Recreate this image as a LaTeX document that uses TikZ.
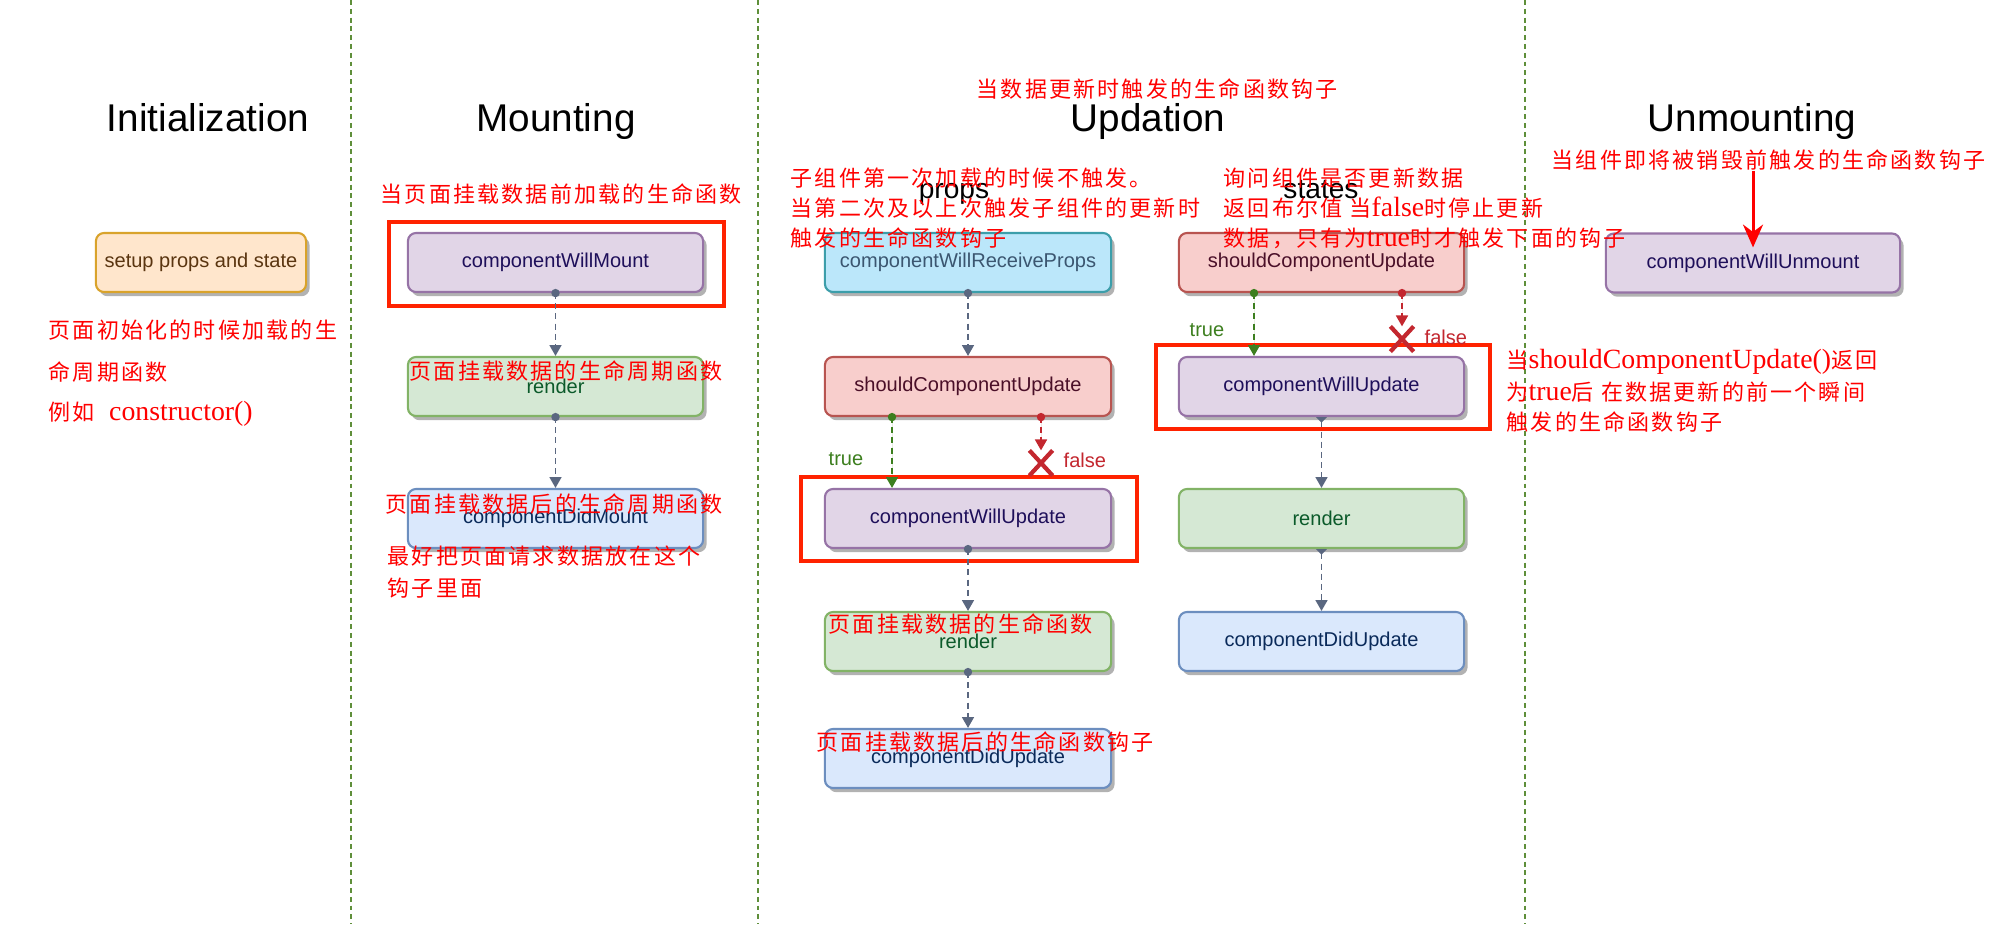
\documentclass[tikz,border=0pt]{standalone}
\usepackage{fontspec}
\setmainfont{Liberation Sans}
\newfontfamily\cjk[LetterSpace=10]{Noto Sans CJK SC}
\newfontfamily\latf{Liberation Serif}
\newcommand\lt[1]{{\latf\fontsize{7.9}{9}\selectfont #1}}
\usetikzlibrary{arrows.meta,shapes.misc,shadows,calc}
\definecolor{sepgreen}{HTML}{5F8F3A}
\definecolor{cgray}{HTML}{5A6780}
\definecolor{cgreen}{HTML}{3D7F1F}
\definecolor{cred}{HTML}{C3272F}
\definecolor{boxred}{HTML}{FF2200}
\definecolor{orfill}{HTML}{FFE6CC}\definecolor{ordraw}{HTML}{D9A32B}\definecolor{ortext}{HTML}{5A3510}
\definecolor{pufill}{HTML}{E1D5E7}\definecolor{pudraw}{HTML}{9673A6}\definecolor{putext}{HTML}{1E0F5A}
\definecolor{grfill}{HTML}{D5E8D4}\definecolor{grdraw}{HTML}{82B366}\definecolor{grtext}{HTML}{0B5A2A}
\definecolor{blfill}{HTML}{DAE8FC}\definecolor{bldraw}{HTML}{6C8EBF}\definecolor{bltext}{HTML}{0A2A5A}
\definecolor{cyfill}{HTML}{BBE7FA}\definecolor{cydraw}{HTML}{3C9EAA}\definecolor{cytext}{HTML}{3B5670}
\definecolor{rdfill}{HTML}{F8CECC}\definecolor{rddraw}{HTML}{B85450}\definecolor{rdtext}{HTML}{4A0F28}
\begin{document}
\begin{tikzpicture}[x=0.01cm,y=-0.01cm,
  box/.style={rounded corners=2.3pt, line width=0.6pt, minimum height=0.59cm, inner sep=0pt,
    font=\fontsize{5.7}{6.8}\selectfont,
    drop shadow={shadow xshift=1pt, shadow yshift=-1.2pt, opacity=0.3, fill=black}},
  orbox/.style={box, fill=orfill, draw=ordraw, text=ortext},
  pubox/.style={box, fill=pufill, draw=pudraw, text=putext},
  grbox/.style={box, fill=grfill, draw=grdraw, text=grtext},
  blbox/.style={box, fill=blfill, draw=bldraw, text=bltext},
  cybox/.style={box, fill=cyfill, draw=cydraw, text=cytext},
  rdbox/.style={box, fill=rdfill, draw=rddraw, text=rdtext},
  title/.style={font=\fontsize{11}{13}\selectfont, text=black, inner sep=0pt, anchor=base},
  sub/.style={font=\fontsize{8}{9.5}\selectfont, text=black, inner sep=0pt, anchor=base},
  ann/.style={text=red, font=\cjk\fontsize{6.26}{7.5}\selectfont, anchor=west, inner sep=0pt},
  sep/.style={draw=sepgreen, line width=0.55pt, dash pattern=on 1.4pt off 1.1pt},
  conn/.style={draw=cgray, line width=0.5pt, dash pattern=on 1.7pt off 1.2pt,
    -{Triangle[width=3.4pt,length=3.1pt]}},
  conntri/.style={conn, {Triangle[reversed,width=3pt,length=1.6pt]}-{Triangle[width=3.4pt,length=3.1pt]}},
  conng/.style={conn, draw=cgreen, fill=cgreen},
  connr/.style={conn, draw=cred, fill=cred},
  lab/.style={font=\fontsize{5.7}{6.8}\selectfont, inner sep=0pt},
  xmark/.style={cross out, draw=cred, line width=1.2pt, minimum width=0.19cm, minimum height=0.21cm, inner sep=0pt},
  redbox/.style={draw=boxred, line width=1.1pt},
  redarrow/.style={draw=red, line width=0.85pt, -{Stealth[width=5.7pt,length=6.5pt]}}
]
\useasboundingbox[fill=white] (0,0) rectangle (2000,924);

% separators
\draw[sep] (351,0) -- (351,924);
\draw[sep] (758,0) -- (758,924);
\draw[sep] (1525,0) -- (1525,924);

% titles
\node[title] (tInit) at (208,131) {Initialization};
\node[title] (tMount) at (556,131) {Mounting};
\node[title] (tUpd) at (1148,131) {Updation};
\node[title] (tUnm) at (1752,131) {Unmounting};
\node[sub] (tProps) at (954,198) {props};
\node[sub] (tStates) at (1321,198) {states};

% boxes
\node[orbox, minimum width=2.10cm] (setup) at (201,262.5) {setup props and state};
\node[pubox, minimum width=2.95cm] (cwm) at (555.5,262.5) {componentWillMount};
\node[grbox, minimum width=2.95cm] (render1) at (555.5,386.5) {render};
\node[blbox, minimum width=2.95cm] (cdm) at (555.5,518.5) {componentDidMount};

\node[cybox, minimum width=2.86cm] (cwrp) at (968,262.5) {componentWillReceiveProps};
\node[rdbox, minimum width=2.86cm] (scu1) at (968,386.5) {shouldComponentUpdate};
\node[pubox, minimum width=2.86cm] (cwu1) at (968,518.5) {componentWillUpdate};
\node[grbox, minimum width=2.86cm] (render2) at (968,641.5) {render};
\node[blbox, minimum width=2.86cm] (cdu1) at (968,758.5) {componentDidUpdate};

\node[rdbox, minimum width=2.85cm] (scu2) at (1321.5,262.5) {shouldComponentUpdate};
\node[pubox, minimum width=2.85cm] (cwu2) at (1321.5,386.5) {componentWillUpdate};
\node[grbox, minimum width=2.85cm] (render3) at (1321.5,518.5) {render};
\node[blbox, minimum width=2.85cm] (cdu2) at (1321.5,641.5) {componentDidUpdate};

\node[pubox, minimum width=2.94cm] (cwun) at (1753,263) {componentWillUnmount};

% red highlight rectangles
\draw[redbox] (389,222) rectangle (724,306);
\draw[redbox] (801,477) rectangle (1137,561);
\draw[redbox] (1156,345) rectangle (1490,429);

% mounting connectors
\draw[conn] (cwm.south) -- (render1.north);
\fill[cgray] (cwm.south) circle (1.2pt);
\draw[conn] (render1.south) -- (cdm.north);
\fill[cgray] (render1.south) circle (1.2pt);

% props connectors
\draw[conn] (cwrp.south) -- (scu1.north);
\fill[cgray] (cwrp.south) circle (1.2pt);
\coordinate (g1) at ($(scu1.south)+(-76,0)$);
\coordinate (r1) at ($(scu1.south)+(73,0)$);
\node[xmark] (x1) at (1041,463) {};
\draw[conng] (g1) -- (g1 |- cwu1.north);
\draw[connr] (r1) -- (x1.north);
\fill[cgreen] (g1) circle (1.2pt);
\fill[cred] (r1) circle (1.2pt);
\node[lab, text=cgreen] (true1) at (846,459) {true};
\node[lab, text=cred, anchor=west] (false1) at (1063,460) {false};
\draw[conn] (cwu1.south) -- (render2.north);
\fill[cgray] (cwu1.south) circle (1.2pt);
\draw[conn] (render2.south) -- (cdu1.north);
\fill[cgray] (render2.south) circle (1.2pt);

% states connectors
\coordinate (g2) at ($(scu2.south)+(-67.5,0)$);
\coordinate (r2) at ($(scu2.south)+(80.5,0)$);
\node[xmark] (x2) at (1402,339) {};
\draw[conng] (g2) -- (g2 |- cwu2.north);
\draw[connr] (r2) -- (x2.north);
\fill[cgreen] (g2) circle (1.2pt);
\fill[cred] (r2) circle (1.2pt);
\node[lab, text=cgreen] (true2) at (1207,330) {true};
\node[lab, text=cred, anchor=west] (false2) at (1424,337) {false};
\draw[conntri] (cwu2.south) -- (render3.north);
\draw[conntri] (render3.south) -- (cdu2.north);

% annotations
\node[ann] (a1) at (380,194) {当页面挂载数据前加载的生命函数};
\node[ann] (a2a) at (48,330) {页面初始化的时候加载的生};
\node[ann] (a2b) at (48,372) {命周期函数};
\node[ann] (a2c) at (48,414) {例如\ \ \lt{constructor()}};
\node[ann] (a3) at (409,371) {页面挂载数据的生命周期函数};
\node[ann] (a4a) at (385,504) {页面挂载数据后的生命周期函数};
\node[ann] (a4b) at (387,556) {最好把页面请求数据放在这个};
\node[ann] (a4c) at (387,588) {钩子里面};
\node[ann] (a5) at (976,89) {当数据更新时触发的生命函数钩子};
\node[ann] (a6a) at (790,178) {子组件第一次加载的时候不触发。};
\node[ann] (a6b) at (790,208) {当第二次及以上次触发子组件的更新时};
\node[ann] (a6c) at (790,238) {触发的生命函数钩子};
\node[ann] (a7a) at (1223,178) {询问组件是否更新数据};
\node[ann] (a7b) at (1223,208) {返回布尔值 当\lt{false}时停止更新};
\node[ann] (a7c) at (1223,238) {数据，只有为\lt{true}时才触发下面的钩子};
\node[ann] (a8) at (828,624) {页面挂载数据的生命函数};
\node[ann] (a9) at (816,742) {页面挂载数据后的生命函数钩子};
\node[ann] (a10) at (1551,160) {当组件即将被销毁前触发的生命函数钩子};
\node[ann] (a11a) at (1506,362) {当\lt{shouldComponentUpdate()}返回};
\node[ann] (a11b) at (1506,392) {为\lt{true}后 在数据更新的前一个瞬间};
\node[ann] (a11c) at (1506,422) {触发的生命函数钩子};

\draw[redarrow] (cwun.north |- a10.south) -- ($(cwun.north)+(0,15)$);
\end{tikzpicture}
\end{document}
